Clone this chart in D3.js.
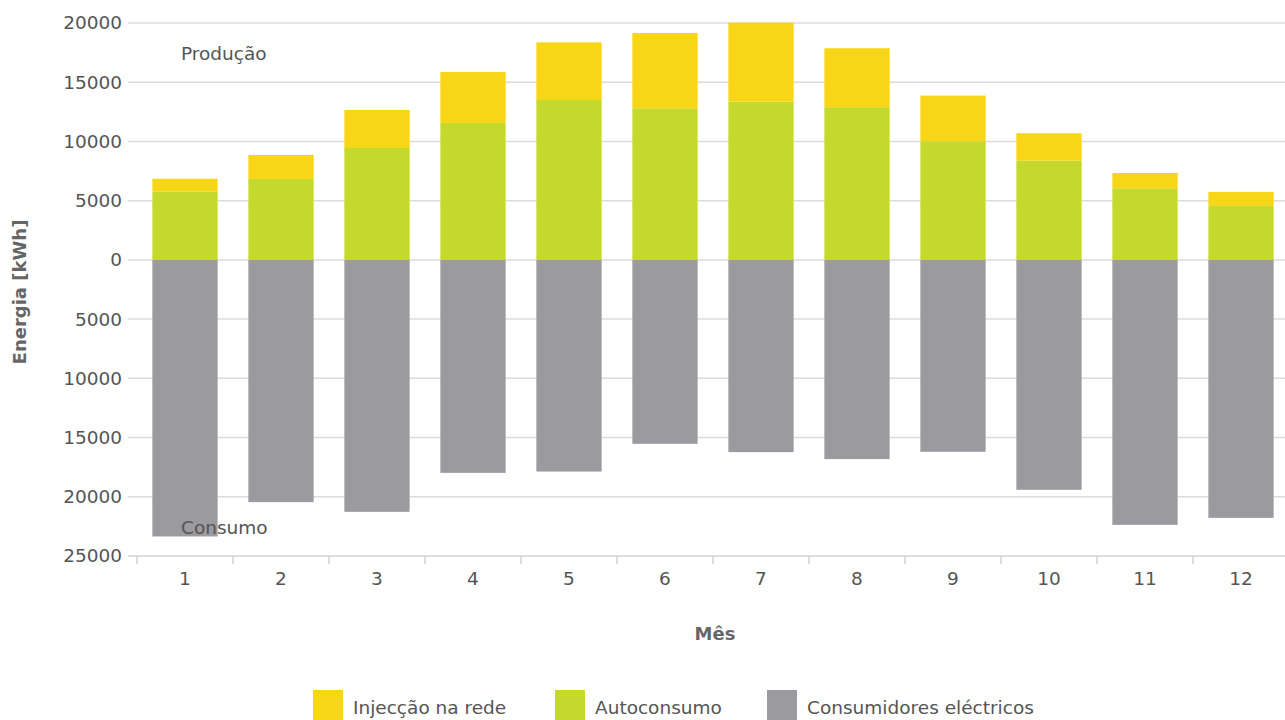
<!DOCTYPE html>
<html><head><meta charset="utf-8">
<script src="https://cdn.jsdelivr.net/npm/d3@7"></script>
<style>
html,body{margin:0;padding:0;background:#fff;}
svg{display:block;font-family:"DejaVu Sans",Verdana,sans-serif;}
</style></head>
<body>
<svg id="chart" width="1285" height="720"></svg>
<script>
const months = ["1","2","3","4","5","6","7","8","9","10","11","12"];
const autoconsumo = [5770, 6840, 9450, 11560, 13500, 12800, 13360, 12890, 10020, 8380, 6050, 4560];
const injeccao = [1080, 2020, 3210, 4310, 4870, 6360, 6670, 4980, 3850, 2310, 1290, 1180];
const consumo = [23350, 20450, 21270, 17980, 17870, 15530, 16230, 16820, 16200, 19410, 22370, 21780];
const yTicks = [20000, 15000, 10000, 5000, 0, -5000, -10000, -15000, -20000, -25000];
const seriesNames = ["Injecção na rede", "Autoconsumo", "Consumidores eléctricos"];
const colors = ["#f6d617", "#c5d92d", "#9b9a9e"];

const svg = d3.select("#chart");
const y = d3.scaleLinear().domain([-25000, 20000]).range([556, 23]);
const x = d3.scaleBand().domain(months).range([137, 1289]).paddingInner(0.32).paddingOuter(0.16);

const rows = months.map((m, i) => ({month: m, auto: autoconsumo[i], inj: injeccao[i], cons: -consumo[i]}));
const stack = d3.stack().keys(["auto", "inj", "cons"]).offset(d3.stackOffsetDiverging);
const stacked = stack(rows);
const colorOf = {auto: colors[1], inj: colors[0], cons: colors[2]};

// gridlines
svg.append("g").selectAll("line").data(yTicks.filter(d => d !== -25000)).join("line")
  .attr("x1", 128).attr("x2", 1285)
  .attr("y1", d => y(d)).attr("y2", d => y(d))
  .attr("stroke", "#dcdcdc").attr("stroke-width", 1.5);

// bars
svg.append("g").selectAll("g").data(stacked).join("g")
  .attr("fill", s => colorOf[s.key])
  .selectAll("rect").data(s => s).join("rect")
  .attr("x", d => x(d.data.month))
  .attr("width", x.bandwidth())
  .attr("y", d => y(Math.max(d[0], d[1])))
  .attr("height", d => Math.abs(y(d[0]) - y(d[1])));

// y axis labels
svg.append("g").selectAll("text").data(yTicks).join("text")
  .attr("x", 122).attr("y", d => y(d)).attr("dy", "0.35em")
  .attr("text-anchor", "end").attr("font-size", 18.5).attr("fill", "#555")
  .text(d => Math.abs(d));

// x axis
const xAxis = svg.append("g").attr("transform", `translate(0,${y(-25000)})`)
  .call(d3.axisBottom(x).tickSize(0).tickPadding(16));
xAxis.select(".domain").remove();
xAxis.selectAll("text").attr("font-size", 18.5).attr("fill", "#555").attr("font-family", "DejaVu Sans, sans-serif");
svg.append("line").attr("x1", 128).attr("x2", 1285).attr("y1", y(-25000)).attr("y2", y(-25000))
  .attr("stroke", "#d4d4d4").attr("stroke-width", 1.5);
const bounds = months.map(m => x(m) - x.step() * x.paddingInner() / 2);
svg.append("g").selectAll("line").data(bounds).join("line")
  .attr("x1", d => d).attr("x2", d => d)
  .attr("y1", y(-25000)).attr("y2", y(-25000) + 8)
  .attr("stroke", "#d4d4d4").attr("stroke-width", 1.5);

// annotations
svg.append("text").attr("x", 181).attr("y", 54).attr("dy", "0.35em")
  .attr("font-size", 18.5).attr("fill", "#555").text("Produção");
svg.append("text").attr("x", 181).attr("y", 528).attr("dy", "0.35em")
  .attr("font-size", 18.5).attr("fill", "#555").text("Consumo");

// axis titles
svg.append("text").attr("transform", "translate(20,292) rotate(-90)")
  .attr("text-anchor", "middle").attr("dy", "0.35em")
  .attr("font-size", 18).attr("font-weight", "bold").attr("fill", "#666")
  .text("Energia [kWh]");
svg.append("text").attr("x", 715).attr("y", 634).attr("dy", "0.35em")
  .attr("text-anchor", "middle").attr("font-size", 18).attr("font-weight", "bold").attr("fill", "#666")
  .text("Mês");

// legend
const legendX = [313, 555, 767];
const lg = svg.append("g").selectAll("g").data(seriesNames).join("g")
  .attr("transform", (d, i) => `translate(${legendX[i]},690)`);
lg.append("rect").attr("width", 30).attr("height", 30).attr("fill", (d, i) => colors[i]);
lg.append("text").attr("x", 40).attr("y", 18).attr("dy", "0.35em")
  .attr("font-size", 18.5).attr("fill", "#555").text(d => d);
</script>
</body></html>
